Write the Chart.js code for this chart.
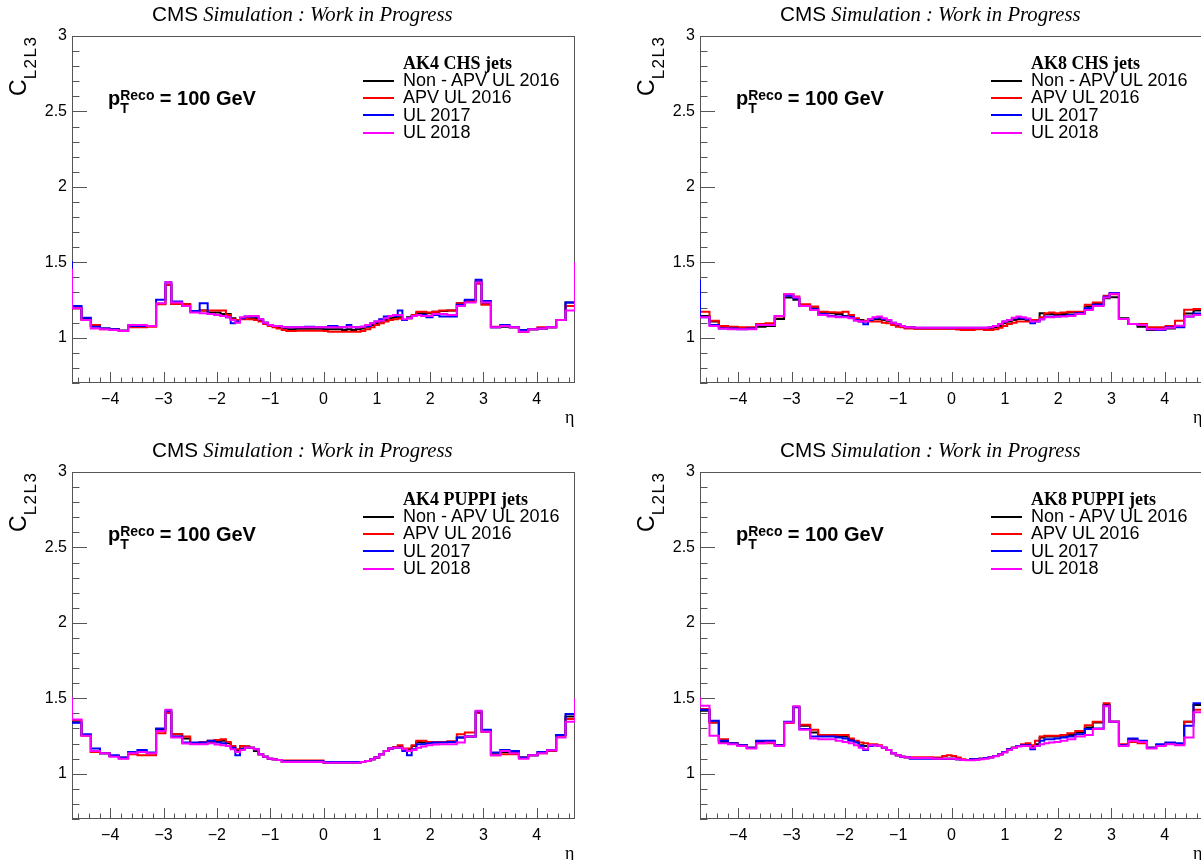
<!DOCTYPE html>
<html lang="en">
<head>
<meta charset="UTF-8">
<title>L2L3 residual corrections vs eta</title>
<script src="https://cdn.jsdelivr.net/npm/chart.js@4.4.1/dist/chart.umd.min.js"></script>
<style>
  html, body { margin: 0; padding: 0; background: #fff; }
  body { width: 1201px; height: 860px; overflow: hidden; position: relative; }
  .panel { position: absolute; width: 628px; height: 436px; }
  .panel canvas { position: absolute; left: 0; top: 0; }
  .ttl { position: absolute; left: 152px; top: 4px; white-space: nowrap; font-size: 20.7px; line-height: 20px; color: #000; }
  .ttl .cms { font-family: "Liberation Sans", Arial, sans-serif; }
  .ttl .sim { font-family: "Liberation Serif", "Times New Roman", serif; font-style: italic; }
  .ytitle { position: absolute; left: 7px; top: 96px; transform-origin: 0 0; transform: rotate(-90deg);
            white-space: nowrap; font-family: "Liberation Sans", Arial, sans-serif; font-size: 23px; line-height: 22px; }
  .ytitle .sub { font-size: 17px; letter-spacing: 1.5px; position: relative; top: 10px; }
  .pt { position: absolute; left: 108px; top: 88px; white-space: nowrap; font-family: "Liberation Sans", Arial, sans-serif;
        font-weight: bold; font-size: 20px; line-height: 20px; }
  .pt .ss { display: inline-block; position: relative; width: 34px; height: 0; }
  .pt .sup, .pt .sub { position: absolute; left: 0; font-size: 14px; line-height: 14px; }
  .pt .sup { bottom: 3px; }
  .pt .sub { top: -4px; }
  .leghead { position: absolute; left: 403px; top: 54px; white-space: nowrap; font-family: "Liberation Serif", "Times New Roman", serif;
             font-weight: bold; font-size: 18px; line-height: 18px; }
  .legrow { position: absolute; left: 403px; white-space: nowrap; font-family: "Liberation Sans", Arial, sans-serif;
            font-size: 18px; line-height: 18px; }
  .legline { position: absolute; left: 363px; width: 31px; height: 2px; }
  .eta { position: absolute; left: 565px; top: 408px; font-family: "Liberation Serif", "Times New Roman", serif; font-size: 18px; line-height: 18px; }
</style>
</head>
<body>
<script>
// eta bin edges (standard JEC binning)
const etaEdges = [-4.889, -4.716, -4.538, -4.363, -4.191, -4.013, -3.839, -3.664, -3.489, -3.314,
  -3.139, -2.964, -2.853, -2.65, -2.5, -2.322, -2.172, -2.043, -1.93, -1.83,
  -1.74, -1.653, -1.566, -1.479, -1.392, -1.305, -1.218, -1.131, -1.044, -0.957,
  -0.879, -0.783, -0.696, -0.609, -0.522, -0.435, -0.348, -0.261, -0.174, -0.087,
  0, 0.087, 0.174, 0.261, 0.348, 0.435, 0.522, 0.609, 0.696, 0.783,
  0.879, 0.957, 1.044, 1.131, 1.218, 1.305, 1.392, 1.479, 1.566, 1.653,
  1.74, 1.83, 1.93, 2.043, 2.172, 2.322, 2.5, 2.65, 2.853, 2.964,
  3.139, 3.314, 3.489, 3.664, 3.839, 4.013, 4.191, 4.363, 4.538, 4.716, 4.889];

const etaMin = -4.716;
const etaMax = 4.716;
const yMin = 0.7;
const yMax = 3;

const xTickValues = [-4, -3, -2, -1, 0, 1, 2, 3, 4];
const xTickLabels = ['\u22124', '\u22123', '\u22122', '\u22121', '0', '1', '2', '3', '4'];
const yTickValues = [1, 1.5, 2, 2.5, 3];
const yTickLabels = ['1', '1.5', '2', '2.5', '3'];

const seriesLabels = ['Non - APV UL 2016', 'APV UL 2016', 'UL 2017', 'UL 2018'];
const seriesColors = ['#000000', '#ff0000', '#0000ff', '#ff00ff'];

// AK4 CHS
const ak4chsNonApv16 = [1.196,1.196,1.124,1.078,1.062,1.056,1.047,1.073,1.073,1.078,
  1.225,1.351,1.224,1.222,1.178,1.180,1.167,1.167,1.158,1.158,
  1.129,1.118,1.129,1.136,1.129,1.129,1.118,1.100,1.084,1.078,
  1.069,1.062,1.056,1.056,1.060,1.060,1.060,1.060,1.060,1.060,
  1.056,1.056,1.056,1.056,1.051,1.056,1.051,1.056,1.062,1.073,
  1.084,1.096,1.107,1.118,1.129,1.136,1.136,1.118,1.136,1.144,
  1.162,1.162,1.162,1.173,1.178,1.180,1.229,1.244,1.373,1.224,
  1.069,1.073,1.069,1.040,1.056,1.062,1.069,1.118,1.233,1.233];
const ak4chsApv16 = [1.196,1.196,1.118,1.084,1.056,1.056,1.047,1.069,1.069,1.073,
  1.222,1.351,1.224,1.222,1.178,1.180,1.180,1.180,1.180,1.151,
  1.122,1.118,1.122,1.122,1.122,1.118,1.107,1.091,1.078,1.069,
  1.062,1.051,1.044,1.044,1.047,1.047,1.047,1.047,1.047,1.047,
  1.044,1.040,1.040,1.040,1.040,1.040,1.040,1.040,1.044,1.056,
  1.069,1.084,1.096,1.107,1.118,1.122,1.127,1.118,1.129,1.151,
  1.173,1.173,1.167,1.173,1.180,1.180,1.229,1.244,1.358,1.218,
  1.073,1.078,1.069,1.040,1.056,1.069,1.069,1.118,1.211,1.211];
const ak4chsUL17 = [1.500,1.211,1.133,1.073,1.062,1.056,1.047,1.078,1.078,1.078,
  1.251,1.367,1.240,1.211,1.178,1.229,1.158,1.151,1.144,1.136,
  1.096,1.107,1.129,1.140,1.140,1.140,1.122,1.100,1.084,1.078,
  1.078,1.069,1.069,1.069,1.069,1.069,1.073,1.073,1.069,1.069,
  1.069,1.078,1.078,1.069,1.069,1.084,1.069,1.069,1.073,1.078,
  1.096,1.107,1.122,1.140,1.144,1.144,1.180,1.118,1.129,1.144,
  1.151,1.151,1.136,1.151,1.140,1.140,1.218,1.251,1.384,1.244,
  1.069,1.084,1.069,1.051,1.056,1.062,1.069,1.118,1.233,1.233];
const ak4chsUL18 = [1.450,1.196,1.118,1.062,1.056,1.051,1.044,1.084,1.084,1.078,
  1.229,1.367,1.233,1.211,1.167,1.162,1.158,1.151,1.144,1.136,
  1.118,1.100,1.136,1.140,1.144,1.144,1.122,1.100,1.084,1.078,
  1.078,1.069,1.069,1.069,1.069,1.069,1.069,1.069,1.069,1.069,
  1.069,1.069,1.069,1.069,1.069,1.073,1.069,1.069,1.073,1.084,
  1.096,1.107,1.113,1.129,1.144,1.151,1.151,1.122,1.129,1.144,
  1.151,1.144,1.144,1.158,1.158,1.151,1.211,1.233,1.367,1.233,
  1.069,1.078,1.069,1.040,1.056,1.062,1.069,1.118,1.180,1.500];

// AK8 CHS
const ak8chsNonApv16 = [1.144,1.144,1.107,1.069,1.062,1.062,1.062,1.073,1.078,1.124,
  1.267,1.251,1.211,1.196,1.167,1.162,1.158,1.144,1.136,1.122,
  1.118,1.107,1.118,1.122,1.122,1.118,1.113,1.096,1.084,1.078,
  1.069,1.069,1.062,1.062,1.062,1.062,1.062,1.062,1.062,1.062,
  1.062,1.062,1.062,1.062,1.062,1.062,1.062,1.062,1.062,1.069,
  1.078,1.096,1.107,1.118,1.124,1.124,1.118,1.111,1.118,1.162,
  1.158,1.158,1.151,1.158,1.167,1.167,1.207,1.224,1.262,1.269,
  1.129,1.091,1.073,1.051,1.056,1.062,1.073,1.160,1.180,1.180];
const ak8chsApv16 = [1.173,1.173,1.113,1.078,1.073,1.069,1.069,1.091,1.096,1.140,
  1.289,1.273,1.222,1.207,1.173,1.169,1.167,1.173,1.151,1.129,
  1.113,1.113,1.107,1.107,1.107,1.100,1.096,1.084,1.073,1.069,
  1.062,1.062,1.060,1.060,1.060,1.060,1.060,1.060,1.060,1.060,
  1.060,1.055,1.051,1.051,1.051,1.056,1.056,1.051,1.051,1.056,
  1.067,1.078,1.091,1.100,1.107,1.107,1.107,1.118,1.118,1.136,
  1.162,1.167,1.162,1.167,1.173,1.173,1.218,1.233,1.278,1.289,
  1.124,1.091,1.091,1.069,1.069,1.078,1.113,1.185,1.190,1.190];
const ak8chsUL17 = [1.380,1.136,1.084,1.062,1.062,1.056,1.062,1.084,1.084,1.144,
  1.278,1.262,1.211,1.189,1.158,1.144,1.140,1.140,1.136,1.118,
  1.107,1.089,1.118,1.129,1.136,1.124,1.118,1.100,1.089,1.078,
  1.069,1.069,1.067,1.067,1.067,1.067,1.067,1.067,1.067,1.067,
  1.067,1.067,1.067,1.067,1.067,1.067,1.067,1.067,1.069,1.078,
  1.091,1.107,1.118,1.129,1.133,1.129,1.122,1.096,1.107,1.122,
  1.140,1.140,1.140,1.144,1.151,1.162,1.196,1.218,1.271,1.296,
  1.124,1.091,1.084,1.056,1.051,1.069,1.069,1.140,1.160,1.160];
const ak8chsUL18 = [1.136,1.136,1.078,1.062,1.056,1.056,1.056,1.084,1.084,1.144,
  1.289,1.269,1.211,1.184,1.151,1.140,1.136,1.136,1.129,1.113,
  1.107,1.107,1.124,1.136,1.140,1.129,1.118,1.100,1.089,1.078,
  1.069,1.069,1.067,1.067,1.067,1.067,1.067,1.067,1.067,1.067,
  1.067,1.067,1.067,1.067,1.067,1.067,1.067,1.067,1.069,1.078,
  1.091,1.107,1.118,1.133,1.140,1.136,1.127,1.107,1.107,1.122,
  1.136,1.136,1.140,1.140,1.144,1.158,1.184,1.211,1.267,1.291,
  1.124,1.091,1.084,1.056,1.056,1.067,1.080,1.140,1.150,1.150];

// AK4 PUPPI
const ak4puppiNonApv16 = [1.342,1.342,1.256,1.144,1.136,1.118,1.102,1.136,1.144,1.136,
  1.291,1.407,1.262,1.233,1.202,1.207,1.211,1.216,1.218,1.202,
  1.173,1.158,1.167,1.180,1.173,1.151,1.129,1.113,1.100,1.096,
  1.091,1.078,1.078,1.078,1.078,1.078,1.078,1.078,1.078,1.078,
  1.073,1.073,1.073,1.073,1.073,1.073,1.073,1.073,1.078,1.084,
  1.096,1.107,1.129,1.151,1.167,1.173,1.178,1.162,1.158,1.184,
  1.211,1.207,1.207,1.207,1.211,1.211,1.240,1.247,1.407,1.278,
  1.129,1.144,1.140,1.107,1.122,1.140,1.156,1.256,1.380,1.380];
const ak4puppiApv16 = [1.356,1.356,1.251,1.144,1.136,1.118,1.107,1.129,1.122,1.122,
  1.269,1.402,1.262,1.247,1.202,1.211,1.218,1.224,1.229,1.211,
  1.184,1.162,1.184,1.180,1.173,1.162,1.129,1.113,1.100,1.096,
  1.091,1.087,1.087,1.087,1.087,1.087,1.087,1.087,1.087,1.087,
  1.078,1.078,1.078,1.078,1.078,1.078,1.078,1.078,1.078,1.084,
  1.096,1.107,1.129,1.151,1.167,1.178,1.189,1.167,1.167,1.189,
  1.218,1.218,1.211,1.211,1.211,1.216,1.262,1.273,1.402,1.278,
  1.122,1.129,1.129,1.107,1.122,1.136,1.151,1.251,1.362,1.362];
const ak4puppiUL17 = [1.338,1.338,1.262,1.167,1.136,1.122,1.107,1.144,1.158,1.140,
  1.300,1.418,1.247,1.207,1.207,1.207,1.218,1.207,1.202,1.184,
  1.173,1.122,1.162,1.173,1.173,1.162,1.129,1.113,1.100,1.096,
  1.091,1.082,1.082,1.082,1.082,1.082,1.082,1.082,1.082,1.082,
  1.078,1.078,1.078,1.078,1.078,1.078,1.078,1.078,1.078,1.084,
  1.096,1.107,1.129,1.151,1.167,1.173,1.173,1.151,1.122,1.162,
  1.196,1.196,1.202,1.207,1.207,1.211,1.240,1.247,1.413,1.291,
  1.140,1.158,1.151,1.107,1.122,1.144,1.156,1.256,1.396,1.396];
const ak4puppiUL18 = [1.500,1.360,1.251,1.151,1.136,1.113,1.100,1.136,1.144,1.136,
  1.284,1.424,1.240,1.200,1.196,1.196,1.202,1.193,1.189,1.184,
  1.162,1.144,1.158,1.173,1.173,1.162,1.129,1.113,1.100,1.096,
  1.091,1.078,1.078,1.078,1.078,1.078,1.078,1.078,1.078,1.078,
  1.073,1.073,1.073,1.073,1.073,1.073,1.073,1.073,1.078,1.084,
  1.096,1.107,1.129,1.151,1.167,1.173,1.173,1.162,1.151,1.158,
  1.173,1.180,1.189,1.193,1.196,1.196,1.207,1.247,1.418,1.278,
  1.122,1.151,1.136,1.100,1.122,1.136,1.156,1.240,1.344,1.500];

// AK8 PUPPI
const ak8puppiNonApv16 = [1.418,1.418,1.340,1.211,1.202,1.189,1.173,1.211,1.211,1.189,
  1.340,1.440,1.318,1.273,1.251,1.251,1.247,1.247,1.224,1.211,
  1.189,1.184,1.189,1.189,1.184,1.173,1.158,1.136,1.122,1.113,
  1.109,1.104,1.104,1.104,1.104,1.104,1.100,1.100,1.100,1.100,
  1.100,1.096,1.091,1.091,1.096,1.096,1.100,1.104,1.109,1.118,
  1.129,1.144,1.162,1.173,1.184,1.189,1.189,1.184,1.196,1.240,
  1.247,1.247,1.247,1.251,1.256,1.273,1.307,1.340,1.456,1.344,
  1.189,1.224,1.211,1.173,1.189,1.202,1.196,1.344,1.456,1.456];
const ak8puppiApv16 = [1.429,1.429,1.340,1.229,1.202,1.189,1.173,1.202,1.202,1.189,
  1.336,1.444,1.324,1.291,1.256,1.256,1.256,1.256,1.233,1.218,
  1.207,1.202,1.196,1.196,1.189,1.173,1.158,1.136,1.122,1.113,
  1.109,1.109,1.109,1.109,1.109,1.109,1.107,1.107,1.118,1.122,
  1.118,1.107,1.096,1.091,1.096,1.096,1.100,1.104,1.109,1.118,
  1.129,1.144,1.162,1.173,1.184,1.196,1.202,1.189,1.218,1.247,
  1.251,1.251,1.251,1.256,1.269,1.284,1.322,1.344,1.467,1.344,
  1.196,1.211,1.202,1.173,1.189,1.202,1.196,1.344,1.424,1.424];
const ak8puppiUL17 = [1.424,1.424,1.351,1.218,1.202,1.189,1.173,1.218,1.218,1.189,
  1.344,1.442,1.296,1.247,1.247,1.247,1.240,1.233,1.218,1.207,
  1.184,1.158,1.184,1.189,1.184,1.173,1.158,1.136,1.122,1.113,
  1.109,1.100,1.100,1.100,1.100,1.100,1.100,1.100,1.100,1.100,
  1.100,1.096,1.091,1.091,1.096,1.096,1.100,1.104,1.109,1.118,
  1.129,1.144,1.162,1.173,1.184,1.189,1.189,1.162,1.184,1.218,
  1.229,1.229,1.233,1.240,1.247,1.262,1.296,1.300,1.451,1.344,
  1.189,1.233,1.218,1.173,1.196,1.207,1.202,1.318,1.467,1.467];
const ak8puppiUL18 = [1.500,1.451,1.251,1.202,1.196,1.184,1.167,1.202,1.207,1.184,
  1.340,1.447,1.291,1.233,1.229,1.229,1.218,1.211,1.202,1.189,
  1.173,1.162,1.189,1.189,1.184,1.173,1.158,1.136,1.122,1.113,
  1.109,1.104,1.104,1.104,1.104,1.104,1.100,1.100,1.100,1.100,
  1.100,1.096,1.091,1.089,1.089,1.091,1.096,1.100,1.107,1.116,
  1.127,1.140,1.158,1.171,1.180,1.184,1.184,1.173,1.184,1.196,
  1.202,1.207,1.211,1.218,1.229,1.247,1.256,1.296,1.447,1.344,
  1.184,1.218,1.211,1.167,1.184,1.196,1.189,1.240,1.407,1.407];

const panels = [
  { left: 0,   top: 0,   jets: 'AK4 CHS jets',   series: [ak4chsNonApv16, ak4chsApv16, ak4chsUL17, ak4chsUL18] },
  { left: 628, top: 0,   jets: 'AK8 CHS jets',   series: [ak8chsNonApv16, ak8chsApv16, ak8chsUL17, ak8chsUL18] },
  { left: 0,   top: 436, jets: 'AK4 PUPPI jets', series: [ak4puppiNonApv16, ak4puppiApv16, ak4puppiUL17, ak4puppiUL18] },
  { left: 628, top: 436, jets: 'AK8 PUPPI jets', series: [ak8puppiNonApv16, ak8puppiApv16, ak8puppiUL17, ak8puppiUL18] }
];

// histogram outline: each bin becomes a flat segment between its edges
function histPoints(vals) {
  const pts = [];
  vals.forEach((v, i) => {
    pts.push({ x: etaEdges[i], y: v });
    pts.push({ x: etaEdges[i + 1], y: v });
  });
  return pts;
}

// ROOT style frame with inward ticks
const rootFrame = {
  id: 'rootFrame',
  beforeDatasetsDraw(chart) {
    const { ctx, chartArea: a, scales: { x, y } } = chart;
    ctx.save();
    ctx.strokeStyle = '#555';
    ctx.lineWidth = 1;
    ctx.beginPath();
    for (let k = 7; k <= 30; k++) {
      const py = Math.round(y.getPixelForValue(k / 10)) + 0.5;
      const len = (k % 5 === 0) ? 15 : 7.5;
      ctx.moveTo(a.left, py);
      ctx.lineTo(a.left + len, py);
    }
    for (let k = -23; k <= 23; k++) {
      const px = Math.round(x.getPixelForValue(k / 5)) + 0.5;
      const len = (k % 5 === 0) ? 11 : 5.5;
      ctx.moveTo(px, a.bottom);
      ctx.lineTo(px, a.bottom - len);
    }
    ctx.stroke();
    ctx.strokeRect(Math.round(a.left) + 0.5, Math.round(a.top) + 0.5,
      Math.round(a.right - a.left) - 1, Math.round(a.bottom - a.top) - 1);
    ctx.restore();
  }
};

const tickFont = { family: 'Liberation Sans', size: 16 };

panels.forEach(p => {
  const div = document.createElement('div');
  div.className = 'panel';
  div.style.left = p.left + 'px';
  div.style.top = p.top + 'px';

  const canvas = document.createElement('canvas');
  canvas.width = 628;
  canvas.height = 436;
  div.appendChild(canvas);

  let html = '';
  html += '<div class="ttl"><span class="cms">CMS</span><span class="sim"> Simulation : Work in Progress</span></div>';
  html += '<div class="ytitle">C<span class="sub">L2L3</span></div>';
  html += '<div class="pt">p<span class="ss"><span class="sup">Reco</span><span class="sub">T</span></span> = 100 GeV</div>';
  html += '<div class="leghead">' + p.jets + '</div>';
  seriesLabels.forEach((lab, i) => {
    const rowTop = 71 + i * 17.4;
    html += '<div class="legline" style="top:' + (rowTop + 8.5) + 'px;background:' + seriesColors[i] + '"></div>';
    html += '<div class="legrow" style="top:' + rowTop + 'px">' + lab + '</div>';
  });
  html += '<div class="eta">\u03b7</div>';
  div.insertAdjacentHTML('beforeend', html);
  document.body.appendChild(div);

  const datasets = p.series.map((vals, i) => ({
    label: seriesLabels[i],
    data: histPoints(vals),
    borderColor: seriesColors[i],
    borderWidth: 2,
    pointRadius: 0,
    fill: false,
    order: 3 - i
  }));

  new Chart(canvas, {
    type: 'line',
    data: { datasets },
    options: {
      responsive: false,
      animation: false,
      events: [],
      devicePixelRatio: 1,
      layout: { padding: { left: 0, top: 36, right: 53, bottom: 0 } },
      plugins: { legend: { display: false }, tooltip: { enabled: false }, title: { display: false } },
      elements: { line: { tension: 0, borderJoinStyle: 'miter' } },
      scales: {
        x: {
          type: 'linear',
          min: etaMin,
          max: etaMax,
          grid: { display: false, drawTicks: false },
          border: { display: false },
          afterBuildTicks: s => { s.ticks = xTickValues.map(v => ({ value: v })); },
          afterFit: s => { s.height = 53; },
          ticks: {
            autoSkip: false,
            maxRotation: 0,
            padding: 7,
            color: '#000',
            font: tickFont,
            callback: (v, i) => xTickLabels[i]
          }
        },
        y: {
          type: 'linear',
          min: yMin,
          max: yMax,
          grid: { display: false, drawTicks: false },
          border: { display: false },
          afterBuildTicks: s => { s.ticks = yTickValues.map(v => ({ value: v })); },
          afterFit: s => { s.width = 72; },
          ticks: {
            autoSkip: false,
            padding: 5,
            color: '#000',
            font: tickFont,
            callback: (v, i) => yTickLabels[i]
          }
        }
      }
    },
    plugins: [rootFrame]
  });
});
</script>
</body>
</html>
